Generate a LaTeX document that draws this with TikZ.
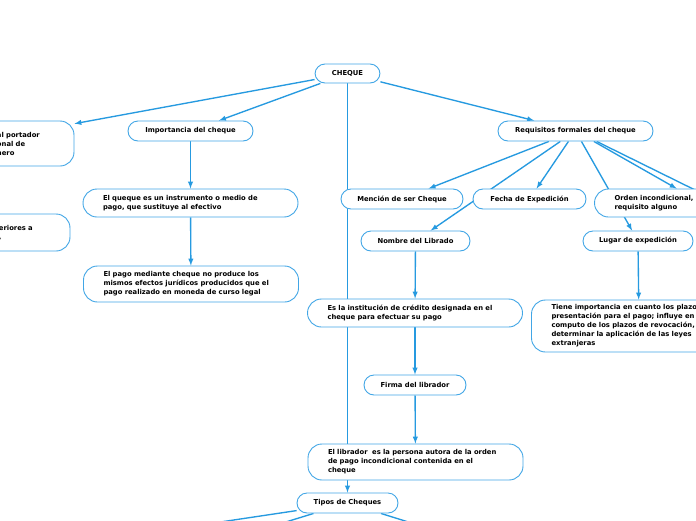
\documentclass[tikz,border=0pt]{standalone}
\usepackage{fontspec}
\setmainfont{DejaVu Sans}
\usetikzlibrary{backgrounds}
\definecolor{linkblue}{RGB}{38,154,224}
\definecolor{boxblue}{RGB}{66,166,230}

\begin{document}
\begin{tikzpicture}[
x=1pt, y=-1pt,
every node/.style={
draw=boxblue,
line width=0.9pt,
fill=white,
rounded corners=10pt,
font=\fontsize{6.8}{9}\selectfont\bfseries,
minimum height=20pt,
inner ysep=2pt
},
shortbox/.style={align=center},
widebox/.style={
align=left,
text width=175pt,
inner xsep=20pt,
rounded corners=14pt
},
link/.style={-latex, draw=linkblue, line width=1.35pt}
]

\useasboundingbox (0,0) rectangle (696,520);
\clip (0,0) rectangle (696,520);

\node[shortbox, minimum width=65pt, minimum height=19pt] (cheque) at (347.5,73.5)
{CHEQUE};

\node[widebox, minimum height=45pt] (portador) at (-33.5,143.5)
{\hspace*{118pt}al portador\\\hspace*{118pt}onal de\\\hspace*{118pt}nero};

\node[widebox, minimum height=37pt] (anteriores) at (-37.5,232.5)
{\hspace*{124pt}eriores a\\\hspace*{124pt},};

\node[shortbox, minimum width=125pt] (importancia) at (190.5,131)
{Importancia del cheque};

\node[widebox, minimum height=28pt] (instrumento) at (190.5,203)
{El queque es un instrumento o medio de\\pago, que sustituye al efectivo};

\node[widebox, minimum height=36pt] (efectos) at (191,284)
{El pago mediante cheque no produce los\\mismos efectos jurídicos producidos que el\\pago realizado en moneda de curso legal};

\node[shortbox, minimum width=155pt] (requisitos) at (575.5,131)
{Requisitos formales del cheque};

\node[shortbox, minimum width=122pt] (mencion) at (402,199)
{Mención de ser Cheque};

\node[shortbox, minimum width=113pt] (fecha) at (529.5,199)
{Fecha de Expedición};

\node[widebox, minimum height=28pt] (orden) at (702,203)
{Orden incondicional,\\requisito alguno};

\node[shortbox, minimum width=109pt] (nombre) at (415.5,241)
{Nombre del Librado};

\node[shortbox, minimum width=110pt] (lugar) at (638,241)
{Lugar de expedición};

\node[widebox, minimum height=52pt] (plazos) at (639,326)
{Tiene importancia en cuanto los plazos\\presentación para el pago; influye en\\computo de los plazos de revocación,\\determinar la aplicación de las leyes\\extranjeras};

\node[widebox, minimum height=28pt] (institucion) at (415,313)
{Es la institución de crédito designada en el\\cheque para efectuar su pago};

\node[shortbox, minimum width=102pt] (firma) at (415,385)
{Firma del librador};

\node[widebox, minimum height=36pt] (librador) at (415.5,462)
{El librador\ \ es la persona autora de la orden\\de pago incondicional contenida en el\\cheque};

\node[shortbox, minimum width=101pt] (tipos) at (347.5,503)
{Tipos de Cheques};

\coordinate (reqmas) at (760,222);
\coordinate (tipouno) at (100,540);
\coordinate (tipodos) at (250,533);
\coordinate (tipotres) at (450,535);

\begin{scope}[on background layer]
\fill[white] (0,0) rectangle (696,520);
\clip (0,0) rectangle (696,520);

\draw[link] (cheque) -- (portador);
\draw[link] (cheque) -- (importancia);
\draw[link] (cheque) -- (requisitos);
\draw[link] (cheque) -- (tipos);

\draw[link] (importancia) -- (instrumento);
\draw[link] (instrumento) -- (efectos);

\draw[link] (requisitos) -- (mencion);
\draw[link] (requisitos) -- (nombre);
\draw[link] (requisitos) -- (fecha);
\draw[link] (requisitos) -- (lugar);
\draw[link] (requisitos) -- (orden);
\draw[link] (requisitos) -- (reqmas);

\draw[link] (lugar) -- (plazos);
\draw[link] (nombre) -- (institucion);
\draw[link] (institucion) -- (firma);
\draw[link] (firma) -- (librador);

\draw[link] (tipos) -- (tipouno);
\draw[link] (tipos) -- (tipodos);
\draw[link] (tipos) -- (tipotres);
\end{scope}

\end{tikzpicture}
\end{document}
